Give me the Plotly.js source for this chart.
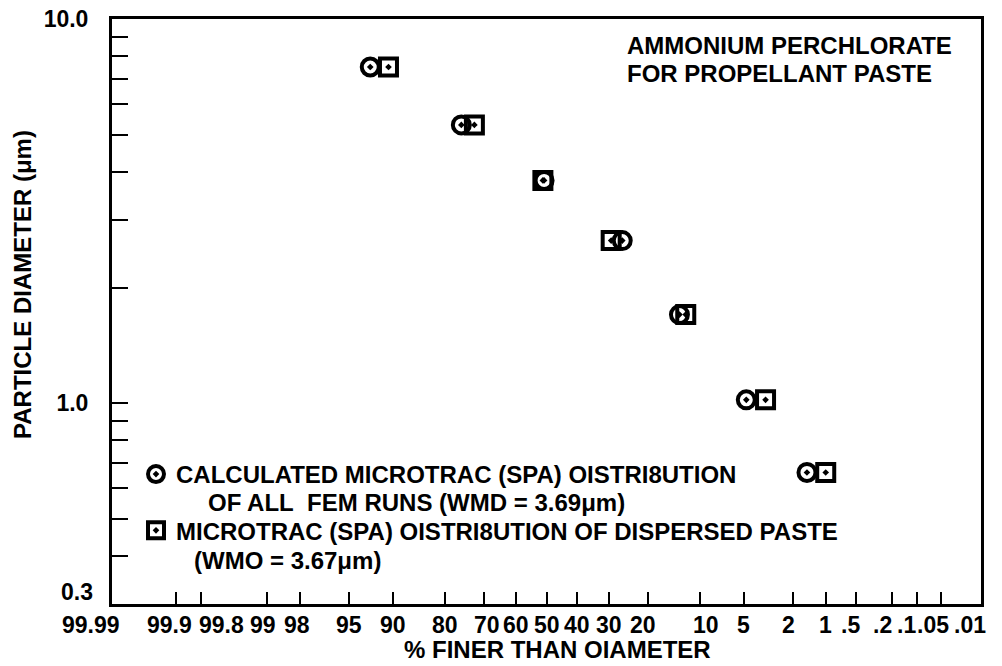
<!DOCTYPE html>
<html><head><meta charset="utf-8">
<script src="https://cdn.plot.ly/plotly-3.0.1.min.js"></script>
<style>html,body{margin:0;padding:0;background:#fff}#chart{width:1002px;height:666px}</style>
</head><body><div id="chart"></div>
<script>
// ---- data ----
const diameterUm = [7.5, 5.3, 3.8, 2.65, 1.7, 1.02, 0.66];
const pctFinerCalculated = [92.9, 76.1, 50.8, 26.4, 13.4, 4.8, 1.5];
const pctFinerPaste = [90.6, 72.6, 51.2, 29.5, 12.3, 3.4, 1.0];
const xTickPct = [99.9, 99.8, 99, 98, 95, 90, 80, 70, 60, 50, 40, 30, 20, 10, 5, 2, 1, 0.5, 0.2, 0.1, 0.05];
const xTickText = ['99.9','99.8','99','98','95','90','80','70','60','50','40','30','20','10','5','2','1','.5','.2','.1','.05'];
const xEdgeText = ['99.99', '.01'];
const yTickVals = [0.3,0.4,0.5,0.6,0.7,0.8,0.9,1,2,3,4,5,6,7,8,9,10];
const yTickText = ['','','','','','','','1.0','','','','','','','','','10.0'];
const yBottomLabel = '0.3';
const legendLine1 = ['CALCULATED MICROTRAC (SPA) OISTRI8UTION', 'MICROTRAC (SPA) OISTRI8UTION OF DISPERSED PASTE'];
const legendLine2 = ['OF ALL\u00a0\u00a0FEM RUNS (WMD = 3.69\u03bcm)', '(WMO = 3.67\u03bcm)'];

// probability-scale transform (inverse normal CDF)
function probit(p){
  const a=[-3.969683028665376e+01,2.209460984245205e+02,-2.759285104469687e+02,1.383577518672690e+02,-3.066479806614716e+01,2.506628277459239e+00];
  const b=[-5.447609879822406e+01,1.615858368580409e+02,-1.556989798598866e+02,6.680131188771972e+01,-1.328068155288572e+01];
  const c=[-7.784894002430293e-03,-3.223964580411365e-01,-2.400758277161838e+00,-2.549732539343734e+00,4.374664141464968e+00,2.938163982698783e+00];
  const d=[7.784695709041462e-03,3.224671290700398e-01,2.445134137142996e+00,3.754408661907416e+00];
  const pl=0.02425, ph=1-pl; let q,r;
  if(p<pl){q=Math.sqrt(-2*Math.log(p));return (((((c[0]*q+c[1])*q+c[2])*q+c[3])*q+c[4])*q+c[5])/((((d[0]*q+d[1])*q+d[2])*q+d[3])*q+1);}
  if(p<=ph){q=p-0.5;r=q*q;return (((((a[0]*r+a[1])*r+a[2])*r+a[3])*r+a[4])*r+a[5])*q/(((((b[0]*r+b[1])*r+b[2])*r+b[3])*r+b[4])*r+1);}
  q=Math.sqrt(-2*Math.log(1-p));return -(((((c[0]*q+c[1])*q+c[2])*q+c[3])*q+c[4])*q+c[5])/((((d[0]*q+d[1])*q+d[2])*q+d[3])*q+1);
}
const z = pct => probit(pct/100);

const FAM = 'Liberation Sans, Arial, sans-serif';
const FONT = {family:FAM, size:24, color:'#000', weight:'bold'};
const TICKFONT = {family:FAM, size:23, color:'#000', weight:'bold'};

const traces = [
  {x: pctFinerCalculated.map(z), y: diameterUm, mode:'markers', type:'scatter',
   name: legendLine1[0], legendgroup:'calc',
   marker:{symbol:'circle-open-dot', size:17, color:'#000', line:{width:4, color:'#000'}}},
  {x: pctFinerPaste.map(z), y: diameterUm, mode:'markers', type:'scatter',
   name: legendLine1[1], legendgroup:'paste',
   marker:{symbol:'square-open-dot', size:17, color:'#000', line:{width:4, color:'#000'}}}
];

// plot-area geometry (pixels) used only to place free text
const X0 = 112, PW = 869, Y0 = 604, PH = 585;
const px = v => (v - X0) / PW;
const py = v => (Y0 - v) / PH;

// small horizontal nudges so the crowded probability labels sit as in the reference
const labelNudge = {'99.9':-6, '99.8':20, '99':-4, '98':-3, '70':3, '20':-5, '10':6, '2':-5, '.5':-5, '.2':-9, '.1':-11, '.05':-8};

const tickAnns = xTickPct.map((p, i) => ({
  text: xTickText[i], xref:'x', yref:'paper', x: z(p), y:0, xanchor:'center', yanchor:'middle',
  xshift: labelNudge[xTickText[i]] || 0, yshift:-21, showarrow:false, font:TICKFONT
}));

const layout = {
  width:1002, height:666,
  margin:{l:112, r:21, t:19, b:62},
  paper_bgcolor:'#fff', plot_bgcolor:'#fff',
  font: FONT,
  showlegend:true,
  legend:{x:px(136), y:py(452), xanchor:'left', yanchor:'top', bgcolor:'rgba(0,0,0,0)',
          font:FONT, valign:'middle', itemclick:false, tracegroupgap:22},
  xaxis:{range:[3.62,-3.62], tickmode:'array', tickvals:xTickPct.map(z), showticklabels:false,
         ticks:'inside', ticklen:12, tickwidth:2, tickcolor:'#000',
         showline:true, linewidth:3, linecolor:'#000', mirror:true,
         showgrid:false, zeroline:false},
  yaxis:{type:'log', range:[Math.log10(0.3), 1], tickmode:'array', tickvals:yTickVals, ticktext:yTickText,
         ticks:'inside', ticklen:16, tickwidth:2, tickcolor:'#000',
         showline:true, linewidth:3, linecolor:'#000', mirror:true,
         showgrid:false, zeroline:false, tickfont:TICKFONT, ticklabelstandoff:16},
  annotations:[
    {text:'PARTICLE DIAMETER (\u03bcm)', textangle:-90, xref:'paper', yref:'paper',
     x:px(22), y:py(285), showarrow:false, xanchor:'center', yanchor:'middle'},
    {text:'% FINER THAN OIAMETER', xref:'paper', yref:'paper', x:px(557), y:0,
     xanchor:'center', yanchor:'middle', yshift:-45, showarrow:false},
    {text:'AMMONIUM PERCHLORATE', xref:'paper', yref:'paper', x:px(625), y:py(46),
     xanchor:'left', yanchor:'middle', showarrow:false},
    {text:'FOR PROPELLANT PASTE', xref:'paper', yref:'paper', x:px(625), y:py(73),
     xanchor:'left', yanchor:'middle', showarrow:false},
    {text:legendLine2[0], xref:'paper', yref:'paper', x:px(206), y:py(503),
     xanchor:'left', yanchor:'middle', showarrow:false},
    {text:legendLine2[1], xref:'paper', yref:'paper', x:px(192), y:py(560),
     xanchor:'left', yanchor:'middle', showarrow:false},
    {text:yBottomLabel, xref:'paper', yref:'paper', x:0, y:0, xanchor:'right', yanchor:'middle',
     xshift:-17, yshift:12, showarrow:false, font:TICKFONT},
    {text:xEdgeText[0], xref:'paper', yref:'paper', x:px(91), y:0, xanchor:'center', yanchor:'middle',
     yshift:-21, showarrow:false, font:TICKFONT},
    {text:xEdgeText[1], xref:'paper', yref:'paper', x:px(970), y:0, xanchor:'center', yanchor:'middle',
     yshift:-21, showarrow:false, font:TICKFONT}
  ].concat(tickAnns)
};

Plotly.newPlot('chart', traces, layout, {displayModeBar:false, staticPlot:true});
</script>
</body></html>
